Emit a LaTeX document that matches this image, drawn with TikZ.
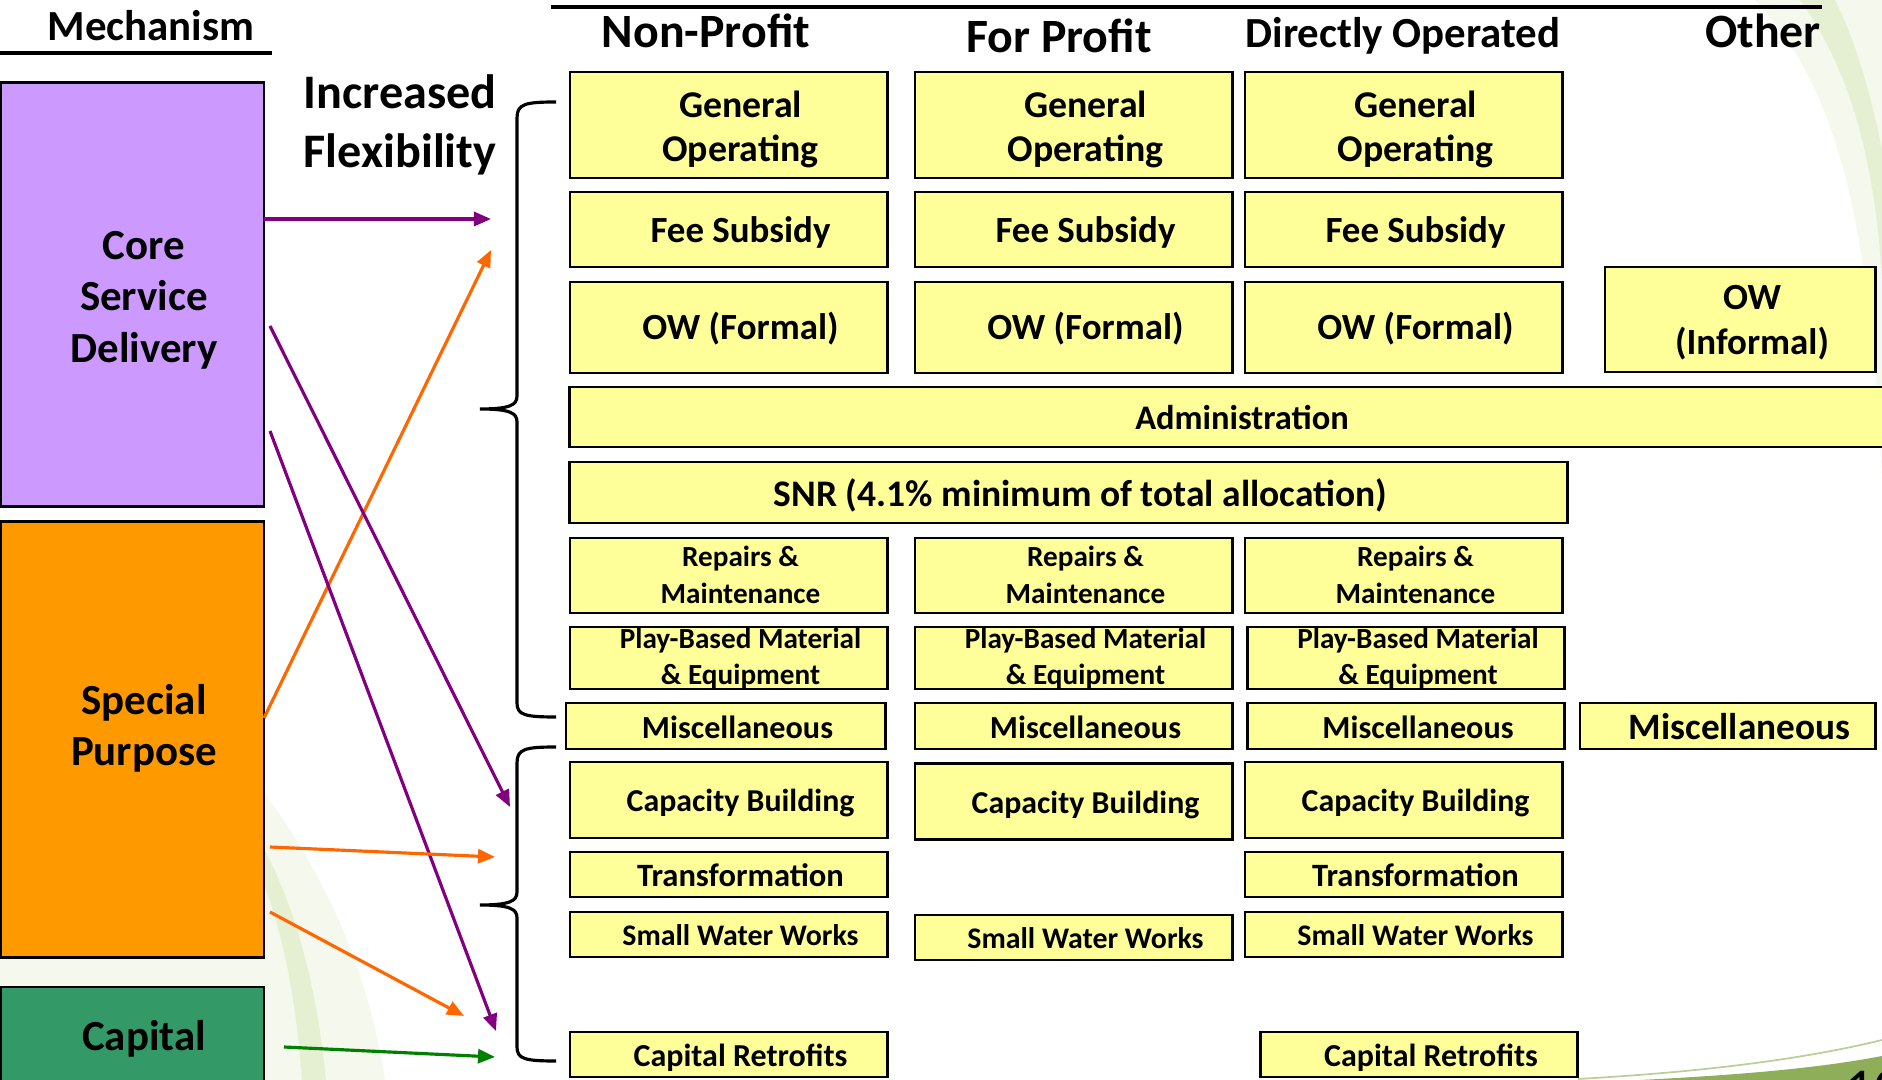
\documentclass[tikz,border=0pt]{standalone}
\usepackage{fontspec}
\setmainfont{Carlito}
\usetikzlibrary{arrows.meta}

\definecolor{corepurple}{HTML}{CC99FF}
\definecolor{specorange}{HTML}{FF9900}
\definecolor{capgreen}{HTML}{339966}
\definecolor{boxyellow}{HTML}{FFFF99}
\definecolor{arrpurple}{HTML}{800080}
\definecolor{arrorange}{HTML}{FF6600}
\definecolor{arrgreen}{HTML}{008000}
\definecolor{swooshpale}{HTML}{F5F8EC}
\definecolor{swooshlight}{HTML}{E5F0D3}
\definecolor{swooshdark}{HTML}{8FAE5A}

\newcommand\fsz[2]{\fontsize{#1}{#2}\selectfont\bfseries}

\begin{document}
\begin{tikzpicture}[x=0.01cm, y=-0.01cm,
    fund/.style={draw, line width=0.8pt, fill=boxyellow, inner sep=0pt, align=center,
        minimum width=#1, text width=#1,
        execute at begin node={\leftskip=0.24cm plus 1fil\rightskip=0pt plus 1fil\parfillskip=0pt\spaceskip=0pt\xspaceskip=0pt\relax}},
    fund/.default=3.17cm,
    mech/.style={draw, line width=0.8pt, inner sep=0pt, minimum width=2.63cm},
    mechtext/.style={align=center, inner sep=0pt, font=\fsz{12.2pt}{14.6pt}},
    head/.style={anchor=base, inner sep=0pt, font=\fsz{13.6pt}{15pt}},
    conn/.style={line width=0.9pt, -{Triangle[length=0.17cm, width=0.14cm]}},
    gen/.style={minimum height=1.06cm, text height=0.23cm, text depth=0.37cm, font=\fsz{10.75pt}{12.5pt}},
    fee/.style={minimum height=0.75cm, text height=0.27cm, text depth=0pt, font=\fsz{10.5pt}{12pt}},
    owf/.style={minimum height=0.91cm, text height=0.25cm, text depth=0pt, font=\fsz{10.5pt}{12pt}},
    rep/.style={minimum height=0.75cm, text height=0.20cm, text depth=0.376cm, font=\fsz{8.3pt}{10.4pt}},
    play/.style={minimum height=0.62cm, text height=0.20cm, text depth=0.394cm, font=\fsz{8.3pt}{10.24pt}},
    misc/.style={minimum height=0.46cm, text height=0.24cm, text depth=0pt, font=\fsz{9.15pt}{10pt}},
    capb/.style={minimum height=0.76cm, text height=0.235cm, text depth=0pt, font=\fsz{9.06pt}{11pt}},
    trans/.style={minimum height=0.45cm, text height=0.24cm, text depth=0pt, font=\fsz{9.26pt}{11pt}},
    sww/.style={minimum height=0.45cm, text height=0.22cm, text depth=0pt, font=\fsz{8.5pt}{10pt}},
    retro/.style={minimum height=0.45cm, text height=0.235cm, text depth=0pt, font=\fsz{9.1pt}{11pt}}]
    \useasboundingbox (0,0) rectangle (1882,1080);

    % background swooshes
    \fill[swooshpale] (1755,0) .. controls (1830,80) and (1870,200) .. (1882,480) -- (1882,0) -- cycle;
    \fill[swooshlight] (1800,0) .. controls (1850,70) and (1875,160) .. (1882,280) -- (1882,150) .. controls (1870,90) and (1855,40) .. (1835,0) -- cycle;
    \fill[swooshpale] (0,940) -- (262,790) .. controls (330,880) and (370,980) .. (385,1080) -- (0,1080) -- cycle;
    \fill[swooshlight] (262,845) .. controls (300,915) and (318,1000) .. (326,1080) -- (302,1080) .. controls (296,1000) and (284,935) .. (262,880) -- cycle;
    \draw[swooshdark!60, line width=0.5pt] (1578,1079) .. controls (1700,1072) and (1800,1060) .. (1882,1040);
    \fill[swooshdark] (1640,1080) .. controls (1760,1074) and (1830,1066) .. (1882,1056) -- (1882,1080) -- cycle;
    \node[anchor=north west, inner sep=0pt, font=\fontsize{16pt}{18pt}\selectfont] at (1845,1070) (pagenum) {10};

    % mechanisms
    \node[anchor=base, inner sep=0pt, font=\fsz{12.2pt}{14pt}] at (151,40.5) (mechtitle) {Mechanism};
    \draw[line width=0.9pt] (0,53) -- (272,53);
    \node[mech, fill=corepurple, minimum height=4.23cm] at (132.5,294.5) (core) {};
    \node[mech, fill=specorange, minimum height=4.35cm] at (132.5,739.5) (spec) {};
    \node[mech, fill=capgreen, minimum height=1.08cm] at (132.5,1041) (capi) {};
    \node[mechtext] at (144,300) (coretext) {Core\\Service\\Delivery};
    \node[mechtext] at (144,728) (spectext) {Special\\Purpose};
    \node[mechtext] at (144,1038.5) (capitext) {Capital};
    \node[align=center, inner sep=0pt, font=\fsz{13.7pt}{17pt}] at (400,125) (flex) {Increased\\Flexibility};

    % column headers
    \draw[line width=0.9pt] (551,7) -- (1822,7);
    \node[head] at (706,48) (nonprofit) {Non-Profit};
    \node[head] at (1059,53) (forprofit) {For Profit};
    \node[head, font=\fsz{12.2pt}{14pt}] at (1403,48) (direct) {Directly Operated};
    \node[head] at (1763,48) (other) {Other};

    % funding lines
    \node[fund, gen] at (728.5,125) (npgen) {General\\Operating};
    \node[fund, gen] at (1073.5,125) (fpgen) {General\\Operating};
    \node[fund, gen] at (1403.5,125) (dogen) {General\\Operating};
    \node[fund, fee] at (728.5,229.5) (npfee) {Fee Subsidy};
    \node[fund, fee] at (1073.5,229.5) (fpfee) {Fee Subsidy};
    \node[fund, fee] at (1403.5,229.5) (dofee) {Fee Subsidy};
    \node[fund, owf] at (728.5,327.5) (npow) {OW (Formal)};
    \node[fund, owf] at (1073.5,327.5) (fpow) {OW (Formal)};
    \node[fund, owf] at (1403.5,327.5) (doow) {OW (Formal)};
    \node[fund=2.70cm, minimum height=1.05cm, text height=0.25cm, text depth=0.45cm, font=\fsz{10.5pt}{12.8pt}] at (1740,319.5) (otow) {OW\\(Informal)};
    \node[fund=13.20cm, minimum height=0.60cm, text height=0.25cm, text depth=0pt, font=\fsz{9.8pt}{12pt}] at (1230,417) (admin) {Administration};
    \node[fund=9.97cm, minimum height=0.61cm, text height=0.27cm, text depth=0pt, font=\fsz{10.67pt}{12pt}] at (1068.5,492.5) (snr) {SNR (4.1\% minimum of total allocation)};
    \node[fund, rep] at (728.5,575.5) (nprep) {Repairs \&\\Maintenance};
    \node[fund, rep] at (1073.5,575.5) (fprep) {Repairs \&\\Maintenance};
    \node[fund, rep] at (1403.5,575.5) (dorep) {Repairs \&\\Maintenance};
    \node[fund, play] at (728.5,658) (npplay) {Play-Based Material\\\& Equipment};
    \node[fund, play] at (1073.5,658) (fpplay) {Play-Based Material\\\& Equipment};
    \node[fund, play] at (1406,658) (doplay) {Play-Based Material\\\& Equipment};
    \node[fund=3.19cm, misc] at (725.5,726) (npmisc) {Miscellaneous};
    \node[fund, misc] at (1073.5,726) (fpmisc) {Miscellaneous};
    \node[fund, misc] at (1406,726) (domisc) {Miscellaneous};
    \node[fund=2.95cm, misc, text height=0.27cm, font=\fsz{10.6pt}{12pt}] at (1727.5,726) (otmisc) {Miscellaneous};
    \node[fund, capb] at (728.5,800) (npcap) {Capacity Building};
    \node[fund, capb] at (1073.5,801.5) (fpcap) {Capacity Building};
    \node[fund, capb] at (1403.5,800) (docap) {Capacity Building};
    \node[fund, trans] at (728.5,874.5) (nptrans) {Transformation};
    \node[fund, trans] at (1403.5,874.5) (dotrans) {Transformation};
    \node[fund, sww] at (728.5,934.5) (npsww) {Small Water Works};
    \node[fund, sww] at (1073.5,937.5) (fpsww) {Small Water Works};
    \node[fund, sww] at (1403.5,934.5) (dosww) {Small Water Works};
    \node[fund, retro] at (728.5,1054.5) (npretro) {Capital Retrofits};
    \node[fund, retro] at (1419,1054.5) (doretro) {Capital Retrofits};

    % braces
    \draw[line width=0.9pt] (556,102) .. controls (525,102) and (517,104) .. (517,118) -- (517,396)
        .. controls (517,405) and (510,409) .. (480,409) .. controls (510,409) and (517,413) .. (517,422)
        -- (517,703) .. controls (517,715) and (525,717) .. (556,717);
    \draw[line width=0.9pt] (556,747) .. controls (525,747) and (517,749) .. (517,763) -- (517,892)
        .. controls (517,901) and (510,905) .. (480,905) .. controls (510,905) and (517,909) .. (517,918)
        -- (517,1047) .. controls (517,1059) and (525,1061) .. (556,1061);

    % arrows
    \coordinate (cs1) at (264,219);  \coordinate (ct1) at (491,219);
    \coordinate (ss1) at (264,718);  \coordinate (st1) at (491,250);
    \coordinate (cs2) at (270,326);  \coordinate (ct2) at (510,807);
    \coordinate (cs3) at (270,431);  \coordinate (ct3) at (496,1031);
    \coordinate (ss2) at (270,847);  \coordinate (st2) at (495,857);
    \coordinate (ss3) at (270,912);  \coordinate (st3) at (464,1016);
    \coordinate (gs1) at (284,1047); \coordinate (gt1) at (495,1057);

    \path [conn]
        (cs1) edge [arrpurple] (ct1)
        (ss1) edge [arrorange] (st1)
        (cs2) edge [arrpurple] (ct2)
        (cs3) edge [arrpurple] (ct3)
        (ss2) edge [arrorange] (st2)
        (ss3) edge [arrorange] (st3)
        (gs1) edge [arrgreen] (gt1);
\end{tikzpicture}
\end{document}
